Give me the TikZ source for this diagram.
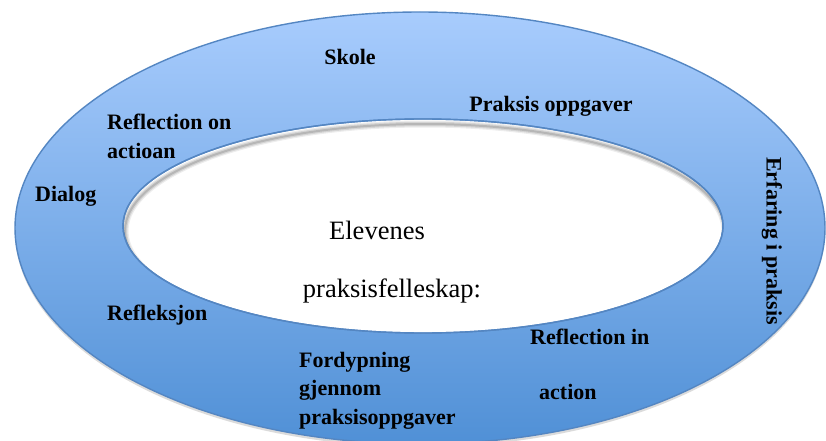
\documentclass[tikz,border=0pt]{standalone}
\usepackage{fontspec}
\setmainfont{Liberation Serif}
\usetikzlibrary{shapes.geometric}
\definecolor{ringtop}{RGB}{168,204,253}
\definecolor{ringbot}{RGB}{80,144,214}
\definecolor{ringline}{RGB}{84,134,194}
\tikzstyle{ring} = [ellipse, inner sep=0, draw=ringline, line width=1.4pt]
\tikzstyle{lbl} = [inner sep=0, font=\bfseries\fontsize{22}{28.5}\selectfont]
\tikzstyle{core} = [inner sep=0, font=\fontsize{26.5}{30}\selectfont]

\begin{document}
\begin{tikzpicture}[x=1pt, y=-1pt]
	\useasboundingbox (0,0) rectangle (826,441);
	\fill[white] (0,0) rectangle (826,441);
	% rings
	\fill[black!35, opacity=0.4] (420,231) ellipse [x radius=405pt, y radius=216pt];
	\node[ring, minimum width=810pt, minimum height=432pt, top color=ringtop, bottom color=ringbot] (outer) at (420,228) {};
	\node[ring, minimum width=600pt, minimum height=214pt, fill=white] (inner) at (423,226) {};
	\begin{scope}
		\clip (423,226) ellipse [x radius=300pt, y radius=107pt];
		\foreach \w/\o in {7/0.07, 4.5/0.10, 2/0.14}
			\draw[line width=\w pt, black, opacity=\o] (425,231) ellipse [x radius=300pt, y radius=107pt];
	\end{scope}
	\draw[ringline, line width=1.4pt] (423,226) ellipse [x radius=300pt, y radius=107pt];
	% labels
	\node[lbl, anchor=base] (skole) at (350,65) {Skole};
	\node[lbl, anchor=base] (oppgaver) at (551,111) {Praksis oppgaver};
	\node[lbl, anchor=north west, align=left] (reflon) at (107,114) {Reflection on\\actioan};
	\node[lbl, anchor=base west] (dialog) at (35,201) {Dialog};
	\node[lbl, anchor=base west] (refleksjon) at (107,320) {Refleksjon};
	\node[lbl, anchor=north west, align=left] (fordypning) at (299,352) {Fordypning\\gjennom\\praksisoppgaver};
	\node[lbl, anchor=base west] (reflin) at (530,344) {Reflection in};
	\node[lbl, anchor=base west] (action) at (539,399) {action};
	\node[lbl, rotate=-90] (erfaring) at (772,241) {Erfaring i praksis};
	\node[core, anchor=base] (elevenes) at (377,239) {Elevenes};
	\node[core, anchor=base] (felleskap) at (392,297) {praksisfelleskap:};
\end{tikzpicture}
\end{document}
